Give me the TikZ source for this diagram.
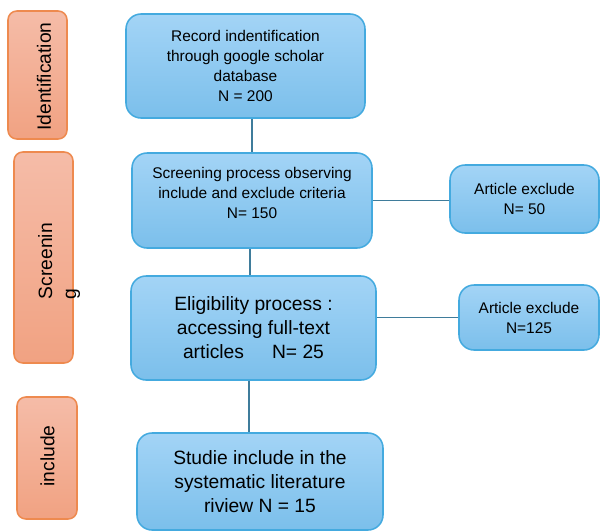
\documentclass[tikz,border=0pt]{standalone}
\usepackage{fontspec}
\setmainfont{Liberation Sans}
\usepackage{color}
\usepackage{tikz}

\definecolor{boxtop}{HTML}{A3D4F6}
\definecolor{boxbot}{HTML}{7BBFEB}
\definecolor{boxline}{HTML}{44AADF}
\definecolor{stagetop}{HTML}{F5BCA8}
\definecolor{stagebot}{HTML}{F1A282}
\definecolor{stageline}{HTML}{EE8A4F}
\definecolor{linkcol}{HTML}{3F7C9B}

\newcommand{\boxfont}{\fontsize{11}{14.2}\selectfont}
\newcommand{\bigboxfont}{\fontsize{13.7}{17.1}\selectfont}

\tikzset{
flowbox/.style={draw=boxline, line width=1.1pt, rounded corners=0.375cm, top color=boxtop, bottom color=boxbot, align=center, inner sep=0pt},
stagebox/.style={draw=stageline, line width=1.1pt, rounded corners=0.22cm, top color=stagetop, bottom color=stagebot},
stagetext/.style={rotate=90, inner sep=0pt, font=\bigboxfont},
link/.style={draw=linkcol, line width=1.4pt}
}

\begin{document}
\begin{tikzpicture}
\useasboundingbox (0,0) rectangle (15,-13.275);

\node[stagebox, minimum width=1.475cm, minimum height=3.2cm] (ident) at (0.9375,-1.875) {};
\node[stagebox, minimum width=1.475cm, minimum height=5.275cm] (screen) at (1.0875,-6.4375) {};
\node[stagebox, minimum width=1.5cm, minimum height=3.05cm] (incl) at (1.175,-11.45) {};
\node[stagetext] (identtxt) at ([xshift=0.16cm,yshift=-0.04cm]ident.center) {Identification};
\node[stagetext, align=left, anchor=north] (screentxt) at ([xshift=-0.14cm,yshift=-0.09cm]screen.center) {Screenin\\g};
\node[stagetext] (incltxt) at ([xshift=0.01cm,yshift=0.05cm]incl.center) {include};

\node[flowbox, font=\boxfont, minimum width=5.975cm, minimum height=2.6cm] (box1) at (6.1375,-1.65) {Record indentification\\through google scholar\\database\\N = 200};
\node[flowbox, font=\boxfont, minimum width=6cm, minimum height=2.375cm] (box2) at (6.3,-5.0125) {Screening process observing\\include and exclude criteria\\N= 150\\[-0.1cm]};
\node[flowbox, font=\bigboxfont, minimum width=6.125cm, minimum height=2.6cm] (box3) at (6.3375,-8.2) {Eligibility process :\\accessing full-text\\articles\hspace{0.7cm}N= 25};
\node[flowbox, font=\bigboxfont, minimum width=6.15cm, minimum height=2.425cm] (box4) at (6.5,-12.0375) {Studie include in the\\systematic literature\\riview N = 15};

\node[flowbox, font=\boxfont, minimum width=3.725cm, minimum height=1.7cm] (ex1) at (13.1125,-4.975) {Article exclude\\N= 50};
\node[flowbox, font=\boxfont, minimum width=3.5cm, minimum height=1.625cm] (ex2) at (13.225,-7.9375) {Article exclude\\N=125};

\draw[link] (box2.north |- box1.south) -- (box2.north);
\draw[link] ([xshift=-0.05cm]box2.south) -- ([xshift=-0.05cm]box2.south |- box3.north);
\draw[link] ([xshift=-0.11cm]box3.south) -- ([xshift=-0.11cm]box3.south |- box4.north);
\draw[link] (box2.east) -- (box2.east -| ex1.west);
\draw[link] (ex2.west -| box3.east) -- (ex2.west);
\end{tikzpicture}
\end{document}
